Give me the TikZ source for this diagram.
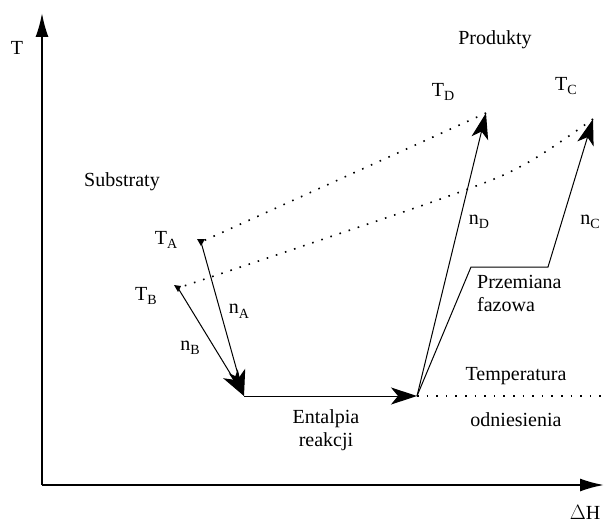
\documentclass[tikz,border=0pt]{standalone}
\usepackage{fontspec}
\setmainfont{Liberation Serif}
\usepackage{tikz}
\usetikzlibrary{arrows.meta, positioning, calc}
\newcommand{\lowidx}[1]{\raisebox{-0.45ex}{\fontsize{14}{14}\selectfont #1}}
\tikzset{
  axisline/.style={
    line width=2pt, -{Latex[length=24pt,width=13pt]}
  },
  flowarrow/.style={
    line width=1pt, -{Stealth[length=26pt,width=17pt,inset=7pt]}
  },
  dotline/.style={
    line width=1.6pt, dash pattern=on 1.6pt off 8pt
  },
  plainlabel/.style={
    font=\fontsize{20}{23}\selectfont, inner sep=0pt
  },
  bloklabel/.style={
    font=\fontsize{20}{23}\selectfont, inner sep=0pt, align=center
  },
}

\begin{document}
\begin{tikzpicture}[x=1pt, y=-1pt]
  \useasboundingbox (0,0) rectangle (604,524);

  % === Axes ===
  \coordinate (origin) at (42,485);
  \coordinate (ytop) at (42,13);
  \coordinate (xend) at (604,485);
  \draw[axisline] (origin) -- (ytop);
  \draw[axisline] (origin) -- (xend);
  \node[plainlabel] (tlab) at (17,48) {T};
  \node[plainlabel] (hlab) at (585,512) {$\Delta$H};

  % === Temperature points ===
  \coordinate (TA) at (201,242);
  \coordinate (TB) at (178,288);
  \coordinate (TD) at (486,113);
  \coordinate (TC) at (593,119);
  \coordinate (ref) at (244,396);
  \coordinate (refR) at (417,396);
  \coordinate (refEnd) at (604,396);
  \coordinate (ph1) at (471,267);
  \coordinate (ph2) at (548,267);

  \node[plainlabel] (lTA) at (166,240) {T\lowidx{A}};
  \node[plainlabel] (lTB) at (146,296) {T\lowidx{B}};
  \node[plainlabel] (lTD) at (443,92) {T\lowidx{D}};
  \node[plainlabel] (lTC) at (566,86) {T\lowidx{C}};

  % === Dotted links ===
  \draw[dotline] (TD) -- (TA);
  \draw[dotline] plot[smooth, tension=0.6] coordinates
    {(593,119) (527,163) (460,192) (300,247) (178,288)};
  \fill (TA) ++(-4,-3) -- ++(8,0) -- ++(-4,7) -- cycle;
  \fill (TB) ++(-4,-3) -- ++(7,1) -- ++(-3,6) -- cycle;

  % === Paths ===
  \draw[flowarrow] (TA) -- node[plainlabel, right=8pt, pos=0.45] (lnA) {n\lowidx{A}} (ref);
  \draw[flowarrow] (TB) -- node[plainlabel, left=14pt, pos=0.55] (lnB) {n\lowidx{B}} (ref);
  \draw[flowarrow] (ref) -- (refR);
  \draw[flowarrow] (refR) -- (TD);
  \draw[flowarrow] (refR) -- (ph1) -- (ph2) -- (TC);
  \draw[dotline] (refR) -- (refEnd);

  \node[plainlabel] (lnD) at (479,222) {n\lowidx{D}};
  \node[plainlabel] (lnC) at (590,222) {n\lowidx{C}};

  % === Text ===
  \node[plainlabel] (substraty) at (122,182) {Substraty};
  \node[plainlabel] (produkty) at (495,40) {Produkty};
  \node[bloklabel] (entalpia) at (326,430) {Entalpia\\reakcji};
  \node[plainlabel, align=left, anchor=north west] (przemiana) at (477,275) {Przemiana\\fazowa};
  \node[plainlabel] (temp) at (516,376) {Temperatura};
  \node[plainlabel] (odn) at (516,420) {odniesienia};

\end{tikzpicture}
\end{document}
